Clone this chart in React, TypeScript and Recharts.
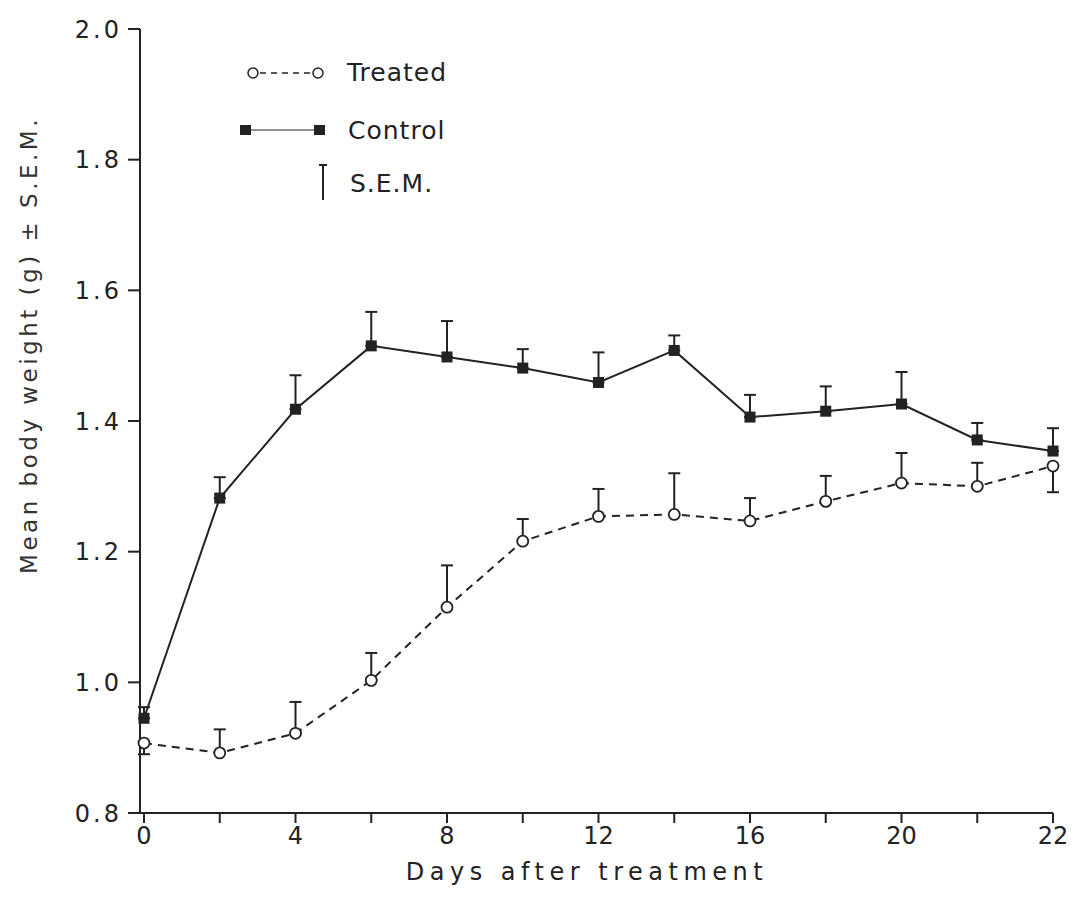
import { LineChart, Line, XAxis, YAxis, ErrorBar } from 'recharts';

// day index 0..12 (every 2 days); the last tick is labelled "22" in the original figure
const dayIndex = [0, 1, 2, 3, 4, 5, 6, 7, 8, 9, 10, 11, 12];
const dayLabels = ['0', '', '4', '', '8', '', '12', '', '16', '', '20', '', '22'];

const treated = [0.907, 0.892, 0.922, 1.003, 1.115, 1.216, 1.254, 1.257, 1.247, 1.277, 1.305, 1.3, 1.331];
const treatedSemUp = [0, 0.036, 0.048, 0.042, 0.064, 0.034, 0.042, 0.063, 0.035, 0.039, 0.046, 0.036, 0];
const treatedSemDown = [0.017, 0, 0, 0, 0, 0, 0, 0, 0, 0, 0, 0, 0.04];

const control = [0.945, 1.282, 1.418, 1.515, 1.498, 1.481, 1.459, 1.508, 1.406, 1.415, 1.426, 1.371, 1.354];
const controlSemUp = [0.017, 0.032, 0.052, 0.052, 0.055, 0.029, 0.046, 0.023, 0.034, 0.038, 0.049, 0.026, 0.035];

const yTicks = [0.8, 1.0, 1.2, 1.4, 1.6, 1.8, 2.0];

const ink = '#222';
const font = '"DejaVu Sans", sans-serif';

const data = dayIndex.map((i) => ({
  i,
  treated: treated[i],
  control: control[i],
  treatedErr: [treatedSemDown[i], treatedSemUp[i]],
  controlErr: [0, controlSemUp[i]],
}));

const SquareDot = (props: any) => {
  const { cx, cy, index } = props;
  if (cx == null || cy == null) return null;
  return <rect key={`sq-${index}`} x={cx - 5.5} y={cy - 5.5} width={11} height={11} fill={ink} />;
};

const CircleDot = (props: any) => {
  const { cx, cy, index } = props;
  if (cx == null || cy == null) return null;
  return <circle key={`ci-${index}`} cx={cx} cy={cy} r={5.5} fill="#fff" stroke={ink} strokeWidth={1.8} />;
};

// legend drawn as a small svg laid over the plot (top-left, as in the original)
const LegendBox = () => (
  <svg width={260} height={160} style={{ display: 'block' }}>
    {/* Treated */}
    <line x1={30} y1={23} x2={81} y2={23} stroke={ink} strokeWidth={1.5} strokeDasharray="6 5" />
    <circle cx={23} cy={23} r={5} fill="#fff" stroke={ink} strokeWidth={1.5} />
    <circle cx={88} cy={23} r={5} fill="#fff" stroke={ink} strokeWidth={1.5} />
    <text x={117} y={31} fontSize={25} fill={ink} fontFamily={font} letterSpacing={1}>Treated</text>
    {/* Control */}
    <line x1={15} y1={80} x2={90} y2={80} stroke={ink} strokeWidth={1} />
    <rect x={10} y={75} width={11} height={10} fill={ink} />
    <rect x={84} y={75} width={11} height={10} fill={ink} />
    <text x={118} y={89} fontSize={25} fill={ink} fontFamily={font} letterSpacing={1}>Control</text>
    {/* S.E.M. */}
    <line x1={93} y1={115} x2={93} y2={150} stroke={ink} strokeWidth={2} />
    <line x1={89} y1={115} x2={97} y2={115} stroke={ink} strokeWidth={2} />
    <text x={120} y={142} fontSize={25} fill={ink} fontFamily={font} letterSpacing={1}>S.E.M.</text>
  </svg>
);

export default function App() {
  return (
    <div style={{ position: 'absolute', left: 0, top: 0, width: 1077, height: 917, background: '#fff' }}>
      <LineChart width={1077} height={917} data={data} margin={{ top: 29, right: 24, bottom: 74, left: 60 }}>
        <XAxis
          dataKey="i"
          type="number"
          domain={[0, 12]}
          ticks={dayIndex}
          tickFormatter={(v: number) => dayLabels[v]}
          padding={{ left: 4, right: 0 }}
          height={30}
          axisLine={{ stroke: ink, strokeWidth: 2 }}
          tickLine={{ stroke: ink, strokeWidth: 2 }}
          tickSize={10}
          tickMargin={4}
          tick={{ fontSize: 24, fill: ink, fontFamily: font }}
          interval={0}
          label={() => (
            <text x={587} y={880} textAnchor="middle" fontSize={24} fill={ink} fontFamily={font} letterSpacing={5.5}>
              Days after treatment
            </text>
          )}
        />
        <YAxis
          type="number"
          domain={[0.8, 2.0]}
          ticks={yTicks}
          tickFormatter={(v: number) => v.toFixed(1)}
          width={80}
          axisLine={{ stroke: ink, strokeWidth: 2 }}
          tickLine={{ stroke: ink, strokeWidth: 2 }}
          tickSize={12}
          tickMargin={6}
          tick={{ fontSize: 24, fill: ink, fontFamily: font, letterSpacing: 3 }}
          interval={0}
          label={() => (
            <text
              x={30}
              y={345}
              transform="rotate(-90 30 345)"
              textAnchor="middle"
              dominantBaseline="middle"
              fontSize={23}
              fill="#333"
              fontFamily={font}
              letterSpacing={3.5}
            >
              Mean body weight (g) ± S.E.M.
            </text>
          )}
        />
        <Line
          dataKey="control"
          name="Control"
          stroke={ink}
          strokeWidth={2}
          dot={SquareDot}
          activeDot={false}
          isAnimationActive={false}
        >
          <ErrorBar dataKey="controlErr" width={6} stroke={ink} strokeWidth={2} direction="y" isAnimationActive={false} />
        </Line>
        <Line
          dataKey="treated"
          name="Treated"
          stroke={ink}
          strokeWidth={2}
          strokeDasharray="8 6"
          dot={CircleDot}
          activeDot={false}
          isAnimationActive={false}
        >
          <ErrorBar dataKey="treatedErr" width={6} stroke={ink} strokeWidth={2} direction="y" isAnimationActive={false} />
        </Line>
      </LineChart>
      <div style={{ position: 'absolute', left: 230, top: 50 }}>
        <LegendBox />
      </div>
    </div>
  );
}
